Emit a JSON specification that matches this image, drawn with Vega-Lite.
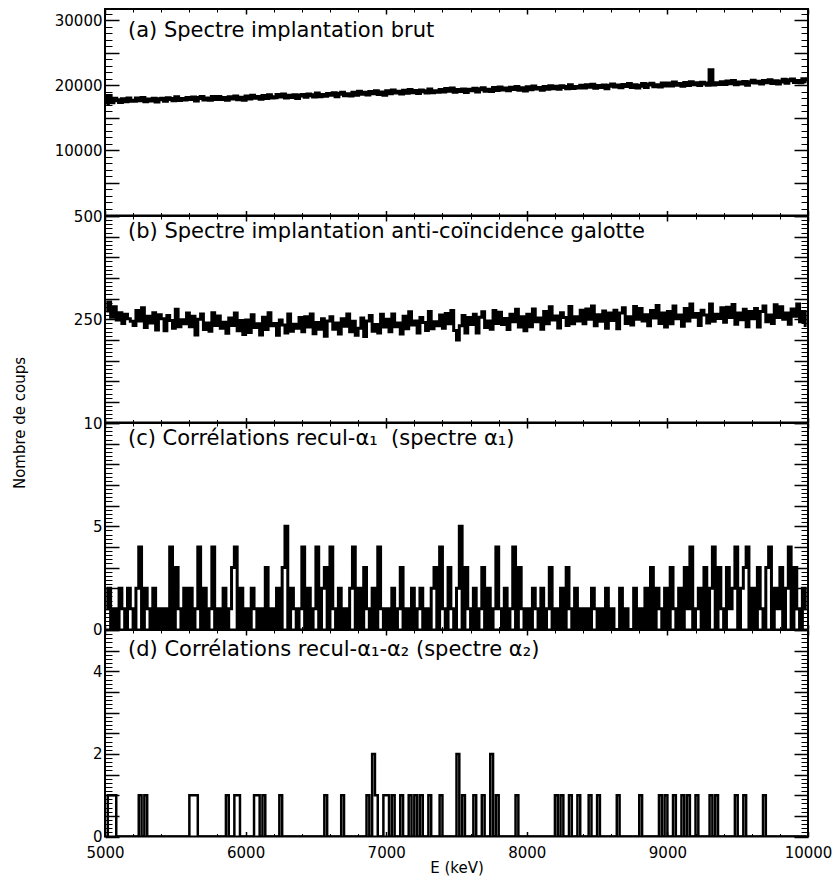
{
"$schema":"https://vega.github.io/schema/vega-lite/v6.json",
"padding":{"left":11,"top":7,"right":0,"bottom":0},
"spacing":0,
"bounds":"flush",
"config":{"font":"DejaVu Sans","view":{"stroke":"black","strokeWidth":2},
"axis":{"grid":false,"format":"d","labelFont":"DejaVu Sans","labelFontSize":15,"labelColor":"black","tickColor":"black","titleFont":"DejaVu Sans","titleFontSize":15,"titleColor":"black","titleFontWeight":"normal","labelFlush":false,"labelOverlap":false,"labelBound":false},
"title":{"font":"DejaVu Sans","fontSize":21,"fontWeight":"normal","color":"black","anchor":"start","frame":"group","orient":"top","offset":0,"baseline":"middle","dx":23}},
"data":{"values":[
{"e":5010,"a":17100,"b":270,"c":1,"d":0},{"e":5030,"a":18350,"b":292,"c":2,"d":1},{"e":5050,"a":17400,"b":255,"c":0,"d":1},{"e":5070,"a":17930,"b":280,"c":1,"d":1},{"e":5090,"a":17680,"b":248,"c":0,"d":0},{"e":5110,"a":17410,"b":266,"c":2,"d":0},{"e":5130,"a":17840,"b":240,"c":1,"d":0},{"e":5150,"a":17540,"b":262,"c":0,"d":0},{"e":5170,"a":17950,"b":251,"c":2,"d":0},{"e":5190,"a":17630,"b":245,"c":1,"d":0},
{"e":5210,"a":17600,"b":235,"c":0,"d":0},{"e":5230,"a":17960,"b":271,"c":2,"d":0},{"e":5250,"a":17710,"b":246,"c":4,"d":1},{"e":5270,"a":18030,"b":278,"c":0,"d":0},{"e":5290,"a":17550,"b":230,"c":2,"d":1},{"e":5310,"a":17820,"b":257,"c":1,"d":0},{"e":5330,"a":17660,"b":241,"c":0,"d":0},{"e":5350,"a":17910,"b":266,"c":2,"d":0},{"e":5370,"a":17490,"b":224,"c":0,"d":0},{"e":5390,"a":17860,"b":261,"c":1,"d":0},
{"e":5410,"a":17910,"b":251,"c":0,"d":0},{"e":5430,"a":17620,"b":222,"c":1,"d":0},{"e":5450,"a":17990,"b":259,"c":0,"d":0},{"e":5470,"a":17870,"b":247,"c":4,"d":0},{"e":5490,"a":17680,"b":228,"c":0,"d":0},{"e":5510,"a":18140,"b":274,"c":3,"d":0},{"e":5530,"a":17720,"b":232,"c":1,"d":0},{"e":5550,"a":17890,"b":249,"c":0,"d":0},{"e":5570,"a":17790,"b":239,"c":2,"d":0},{"e":5590,"a":18050,"b":265,"c":0,"d":0},
{"e":5610,"a":17870,"b":232,"c":2,"d":1},{"e":5630,"a":18120,"b":257,"c":0,"d":1},{"e":5650,"a":17670,"b":212,"c":1,"d":1},{"e":5670,"a":18050,"b":250,"c":4,"d":0},{"e":5690,"a":18180,"b":263,"c":0,"d":0},{"e":5710,"a":17800,"b":225,"c":2,"d":0},{"e":5730,"a":17960,"b":241,"c":0,"d":0},{"e":5750,"a":17760,"b":221,"c":1,"d":0},{"e":5770,"a":18210,"b":266,"c":4,"d":0},{"e":5790,"a":17900,"b":235,"c":0,"d":0},
{"e":5810,"a":18200,"b":258,"c":1,"d":0},{"e":5830,"a":17900,"b":228,"c":0,"d":0},{"e":5850,"a":18050,"b":243,"c":2,"d":0},{"e":5870,"a":17780,"b":216,"c":0,"d":1},{"e":5890,"a":18150,"b":253,"c":1,"d":0},{"e":5910,"a":17970,"b":235,"c":3,"d":0},{"e":5930,"a":18270,"b":265,"c":4,"d":1},{"e":5950,"a":17840,"b":222,"c":0,"d":1},{"e":5970,"a":18090,"b":247,"c":2,"d":0},{"e":5990,"a":17750,"b":213,"c":0,"d":0},
{"e":6010,"a":18270,"b":248,"c":1,"d":0},{"e":6030,"a":17970,"b":218,"c":0,"d":0},{"e":6050,"a":18400,"b":261,"c":2,"d":0},{"e":6070,"a":18090,"b":230,"c":1,"d":1},{"e":6090,"a":18180,"b":239,"c":0,"d":1},{"e":6110,"a":17910,"b":212,"c":1,"d":0},{"e":6130,"a":18340,"b":255,"c":0,"d":1},{"e":6150,"a":18040,"b":225,"c":3,"d":0},{"e":6170,"a":18450,"b":266,"c":0,"d":0},{"e":6190,"a":18130,"b":234,"c":1,"d":0},
{"e":6210,"a":18150,"b":240,"c":0,"d":0},{"e":6230,"a":18510,"b":211,"c":2,"d":0},{"e":6250,"a":18260,"b":248,"c":0,"d":1},{"e":6270,"a":18580,"b":236,"c":3,"d":0},{"e":6290,"a":18100,"b":217,"c":5,"d":0},{"e":6310,"a":18370,"b":263,"c":0,"d":0},{"e":6330,"a":18210,"b":221,"c":2,"d":0},{"e":6350,"a":18460,"b":238,"c":1,"d":0},{"e":6370,"a":18040,"b":228,"c":0,"d":0},{"e":6390,"a":18410,"b":254,"c":1,"d":0},
{"e":6410,"a":18510,"b":220,"c":4,"d":0},{"e":6430,"a":18220,"b":256,"c":0,"d":0},{"e":6450,"a":18590,"b":231,"c":2,"d":0},{"e":6470,"a":18470,"b":263,"c":0,"d":0},{"e":6490,"a":18280,"b":215,"c":1,"d":0},{"e":6510,"a":18740,"b":242,"c":4,"d":0},{"e":6530,"a":18320,"b":226,"c":0,"d":0},{"e":6550,"a":18490,"b":251,"c":2,"d":0},{"e":6570,"a":18390,"b":209,"c":3,"d":1},{"e":6590,"a":18650,"b":246,"c":0,"d":0},
{"e":6610,"a":18520,"b":256,"c":4,"d":0},{"e":6630,"a":18770,"b":226,"c":1,"d":0},{"e":6650,"a":18320,"b":241,"c":0,"d":0},{"e":6670,"a":18700,"b":214,"c":2,"d":0},{"e":6690,"a":18830,"b":251,"c":0,"d":1},{"e":6710,"a":18450,"b":233,"c":1,"d":0},{"e":6730,"a":18610,"b":263,"c":0,"d":0},{"e":6750,"a":18410,"b":220,"c":2,"d":0},{"e":6770,"a":18860,"b":245,"c":4,"d":0},{"e":6790,"a":18550,"b":211,"c":0,"d":0},
{"e":6810,"a":19000,"b":228,"c":2,"d":0},{"e":6830,"a":18700,"b":253,"c":0,"d":0},{"e":6850,"a":18850,"b":208,"c":3,"d":0},{"e":6870,"a":18580,"b":246,"c":1,"d":1},{"e":6890,"a":18950,"b":259,"c":0,"d":0},{"e":6910,"a":18770,"b":221,"c":2,"d":2},{"e":6930,"a":19070,"b":237,"c":0,"d":1},{"e":6950,"a":18640,"b":217,"c":4,"d":0},{"e":6970,"a":18890,"b":262,"c":1,"d":0},{"e":6990,"a":18550,"b":231,"c":0,"d":1},
{"e":7010,"a":19070,"b":250,"c":1,"d":1},{"e":7030,"a":18770,"b":220,"c":0,"d":0},{"e":7050,"a":19200,"b":263,"c":2,"d":1},{"e":7070,"a":18890,"b":232,"c":0,"d":0},{"e":7090,"a":18980,"b":241,"c":1,"d":0},{"e":7110,"a":18710,"b":214,"c":3,"d":1},{"e":7130,"a":19140,"b":257,"c":0,"d":0},{"e":7150,"a":18840,"b":227,"c":1,"d":0},{"e":7170,"a":19250,"b":268,"c":0,"d":1},{"e":7190,"a":18930,"b":236,"c":2,"d":0},
{"e":7210,"a":19110,"b":246,"c":0,"d":1},{"e":7230,"a":18820,"b":217,"c":1,"d":0},{"e":7250,"a":19190,"b":254,"c":2,"d":1},{"e":7270,"a":19070,"b":242,"c":0,"d":0},{"e":7290,"a":18880,"b":223,"c":1,"d":0},{"e":7310,"a":19340,"b":269,"c":0,"d":1},{"e":7330,"a":18920,"b":227,"c":2,"d":0},{"e":7350,"a":19090,"b":244,"c":3,"d":0},{"e":7370,"a":18990,"b":234,"c":0,"d":0},{"e":7390,"a":19250,"b":260,"c":4,"d":1},
{"e":7410,"a":19050,"b":228,"c":1,"d":0},{"e":7430,"a":19410,"b":264,"c":0,"d":0},{"e":7450,"a":19160,"b":239,"c":3,"d":0},{"e":7470,"a":19480,"b":271,"c":1,"d":0},{"e":7490,"a":19000,"b":223,"c":0,"d":0},{"e":7510,"a":19270,"b":200,"c":2,"d":2},{"e":7530,"a":19110,"b":234,"c":5,"d":0},{"e":7550,"a":19360,"b":259,"c":0,"d":1},{"e":7570,"a":18940,"b":217,"c":3,"d":0},{"e":7590,"a":19310,"b":254,"c":1,"d":0},
{"e":7610,"a":19220,"b":237,"c":0,"d":0},{"e":7630,"a":19470,"b":262,"c":2,"d":1},{"e":7650,"a":19020,"b":217,"c":0,"d":0},{"e":7670,"a":19400,"b":255,"c":1,"d":0},{"e":7690,"a":19530,"b":268,"c":3,"d":1},{"e":7710,"a":19150,"b":230,"c":0,"d":0},{"e":7730,"a":19310,"b":246,"c":2,"d":0},{"e":7750,"a":19110,"b":226,"c":0,"d":2},{"e":7770,"a":19560,"b":271,"c":1,"d":0},{"e":7790,"a":19250,"b":240,"c":4,"d":1},
{"e":7810,"a":19650,"b":267,"c":1,"d":0},{"e":7830,"a":19350,"b":237,"c":0,"d":0},{"e":7850,"a":19500,"b":252,"c":2,"d":0},{"e":7870,"a":19230,"b":225,"c":0,"d":0},{"e":7890,"a":19600,"b":262,"c":1,"d":0},{"e":7910,"a":19420,"b":244,"c":4,"d":0},{"e":7930,"a":19720,"b":274,"c":0,"d":1},{"e":7950,"a":19290,"b":231,"c":3,"d":0},{"e":7970,"a":19540,"b":256,"c":1,"d":0},{"e":7990,"a":19200,"b":222,"c":0,"d":0},
{"e":8010,"a":19670,"b":262,"c":1,"d":0},{"e":8030,"a":19370,"b":232,"c":0,"d":0},{"e":8050,"a":19800,"b":275,"c":2,"d":0},{"e":8070,"a":19490,"b":244,"c":1,"d":0},{"e":8090,"a":19580,"b":253,"c":0,"d":0},{"e":8110,"a":19310,"b":226,"c":2,"d":0},{"e":8130,"a":19740,"b":269,"c":0,"d":0},{"e":8150,"a":19440,"b":239,"c":1,"d":0},{"e":8170,"a":19850,"b":280,"c":3,"d":0},{"e":8190,"a":19530,"b":248,"c":0,"d":0},
{"e":8210,"a":19760,"b":258,"c":1,"d":1},{"e":8230,"a":19470,"b":229,"c":0,"d":0},{"e":8250,"a":19840,"b":266,"c":2,"d":1},{"e":8270,"a":19720,"b":254,"c":0,"d":0},{"e":8290,"a":19530,"b":235,"c":3,"d":0},{"e":8310,"a":19990,"b":281,"c":1,"d":1},{"e":8330,"a":19570,"b":239,"c":0,"d":0},{"e":8350,"a":19740,"b":256,"c":2,"d":0},{"e":8370,"a":19640,"b":246,"c":0,"d":1},{"e":8390,"a":19900,"b":272,"c":1,"d":0},
{"e":8410,"a":19650,"b":239,"c":0,"d":0},{"e":8430,"a":20010,"b":275,"c":1,"d":0},{"e":8450,"a":19760,"b":250,"c":0,"d":1},{"e":8470,"a":20080,"b":282,"c":2,"d":0},{"e":8490,"a":19600,"b":234,"c":1,"d":0},{"e":8510,"a":19870,"b":261,"c":0,"d":1},{"e":8530,"a":19710,"b":245,"c":1,"d":0},{"e":8550,"a":19960,"b":270,"c":0,"d":0},{"e":8570,"a":19540,"b":228,"c":2,"d":0},{"e":8590,"a":19910,"b":265,"c":0,"d":0},
{"e":8610,"a":20100,"b":247,"c":1,"d":0},{"e":8630,"a":19800,"b":272,"c":0,"d":0},{"e":8650,"a":19950,"b":227,"c":0,"d":1},{"e":8670,"a":19680,"b":265,"c":2,"d":0},{"e":8690,"a":20050,"b":278,"c":0,"d":0},{"e":8710,"a":19870,"b":240,"c":1,"d":0},{"e":8730,"a":20170,"b":256,"c":0,"d":0},{"e":8750,"a":19740,"b":236,"c":0,"d":0},{"e":8770,"a":19990,"b":281,"c":2,"d":0},{"e":8790,"a":19650,"b":250,"c":0,"d":0},
{"e":8810,"a":19920,"b":276,"c":1,"d":1},{"e":8830,"a":20170,"b":246,"c":0,"d":0},{"e":8850,"a":19720,"b":261,"c":2,"d":0},{"e":8870,"a":20100,"b":234,"c":0,"d":0},{"e":8890,"a":20230,"b":271,"c":3,"d":0},{"e":8910,"a":19850,"b":253,"c":0,"d":0},{"e":8930,"a":20010,"b":283,"c":2,"d":0},{"e":8950,"a":19810,"b":240,"c":1,"d":1},{"e":8970,"a":20260,"b":265,"c":0,"d":0},{"e":8990,"a":19950,"b":231,"c":2,"d":1},
{"e":9010,"a":20270,"b":269,"c":0,"d":0},{"e":9030,"a":19970,"b":239,"c":3,"d":0},{"e":9050,"a":20400,"b":282,"c":1,"d":1},{"e":9070,"a":20090,"b":251,"c":0,"d":0},{"e":9090,"a":20180,"b":260,"c":2,"d":0},{"e":9110,"a":19910,"b":233,"c":0,"d":1},{"e":9130,"a":20340,"b":276,"c":3,"d":0},{"e":9150,"a":20040,"b":246,"c":1,"d":1},{"e":9170,"a":20450,"b":287,"c":4,"d":0},{"e":9190,"a":20130,"b":255,"c":0,"d":0},
{"e":9210,"a":20310,"b":264,"c":1,"d":1},{"e":9230,"a":20020,"b":235,"c":2,"d":0},{"e":9250,"a":20390,"b":272,"c":0,"d":0},{"e":9270,"a":20270,"b":260,"c":3,"d":0},{"e":9290,"a":20080,"b":241,"c":0,"d":0},{"e":9310,"a":22300,"b":287,"c":2,"d":1},{"e":9330,"a":20120,"b":245,"c":4,"d":0},{"e":9350,"a":20290,"b":262,"c":0,"d":1},{"e":9370,"a":20190,"b":252,"c":3,"d":0},{"e":9390,"a":20450,"b":278,"c":1,"d":0},
{"e":9410,"a":20200,"b":243,"c":0,"d":0},{"e":9430,"a":20560,"b":279,"c":3,"d":0},{"e":9450,"a":20310,"b":254,"c":1,"d":0},{"e":9470,"a":20630,"b":286,"c":2,"d":0},{"e":9490,"a":20150,"b":238,"c":4,"d":1},{"e":9510,"a":20420,"b":265,"c":0,"d":0},{"e":9530,"a":20260,"b":249,"c":2,"d":0},{"e":9550,"a":20510,"b":274,"c":3,"d":1},{"e":9570,"a":20090,"b":232,"c":4,"d":0},{"e":9590,"a":20460,"b":269,"c":0,"d":0},
{"e":9610,"a":20700,"b":251,"c":2,"d":0},{"e":9630,"a":20400,"b":276,"c":0,"d":0},{"e":9650,"a":20550,"b":231,"c":3,"d":0},{"e":9670,"a":20280,"b":269,"c":1,"d":0},{"e":9690,"a":20650,"b":282,"c":0,"d":1},{"e":9710,"a":20470,"b":244,"c":3,"d":0},{"e":9730,"a":20770,"b":260,"c":4,"d":0},{"e":9750,"a":20340,"b":240,"c":0,"d":0},{"e":9770,"a":20590,"b":285,"c":2,"d":0},{"e":9790,"a":20250,"b":254,"c":1,"d":0},
{"e":9810,"a":20570,"b":280,"c":3,"d":0},{"e":9830,"a":20820,"b":250,"c":0,"d":0},{"e":9850,"a":20370,"b":265,"c":2,"d":0},{"e":9870,"a":20750,"b":238,"c":4,"d":0},{"e":9890,"a":20880,"b":275,"c":0,"d":0},{"e":9910,"a":20500,"b":257,"c":3,"d":0},{"e":9930,"a":20660,"b":287,"c":1,"d":0},{"e":9950,"a":20460,"b":244,"c":0,"d":0},{"e":9970,"a":20910,"b":269,"c":2,"d":0},{"e":9990,"a":20600,"b":235,"c":1,"d":0}
]},
"vconcat":[
{"width":703,"height":206.5,
"title":{"text":"(a) Spectre implantation brut","dy":37},
"layer":[
{"mark":{"type":"line","interpolate":"step","color":"black","strokeWidth":4,"clip":true},
"encoding":{"x":{"field":"e","type":"quantitative","scale":{"domain":[5000,10000],"nice":false,"zero":false},"axis":null},
"y":{"field":"a","type":"quantitative","scale":{"domain":[0,31700],"nice":false,"zero":false},"axis":{"orient":"left","values":[10000,20000,30000],"ticks":false,"domain":false,"title":null,"labelPadding":3}}}},
{"mark":{"type":"point","opacity":0},"encoding":{"x":{"field":"e","type":"quantitative","axis":{"orient":"bottom","values":[5000,6000,7000,8000,9000,10000],"labels":false,"domain":false,"tickSize":-5,"tickWidth":1.5,"title":null}},
"y":{"field":"a","type":"quantitative","axis":{"orient":"left","values":[0,5000,10000,15000,20000,25000,30000],"labels":false,"domain":false,"tickSize":-14,"tickWidth":1.5,"title":null}}}},
{"mark":{"type":"point","opacity":0},"encoding":{"x":{"field":"e","type":"quantitative","axis":{"orient":"bottom","values":[5200,5400,5600,5800,6200,6400,6600,6800,7200,7400,7600,7800,8200,8400,8600,8800,9200,9400,9600,9800],"labels":false,"domain":false,"tickSize":-3,"title":null}},
"y":{"field":"a","type":"quantitative","axis":{"orient":"left","values":[1000,2000,3000,4000,6000,7000,8000,9000,11000,12000,13000,14000,16000,17000,18000,19000,21000,22000,23000,24000,26000,27000,28000,29000,31000],"labels":false,"domain":false,"tickSize":-7,"title":null}}}},
{"mark":{"type":"point","opacity":0},"encoding":{"x":{"field":"e","type":"quantitative","axis":{"orient":"top","values":[5000,6000,7000,8000,9000,10000],"labels":false,"domain":false,"tickSize":-5,"tickWidth":1.5,"title":null}},
"y":{"field":"a","type":"quantitative","axis":{"orient":"right","values":[0,5000,10000,15000,20000,25000,30000],"labels":false,"domain":false,"tickSize":-14,"tickWidth":1.5,"title":null}}}},
{"mark":{"type":"point","opacity":0},"encoding":{"x":{"field":"e","type":"quantitative","axis":{"orient":"top","values":[5200,5400,5600,5800,6200,6400,6600,6800,7200,7400,7600,7800,8200,8400,8600,8800,9200,9400,9600,9800],"labels":false,"domain":false,"tickSize":-3,"title":null}},
"y":{"field":"a","type":"quantitative","axis":{"orient":"right","values":[1000,2000,3000,4000,6000,7000,8000,9000,11000,12000,13000,14000,16000,17000,18000,19000,21000,22000,23000,24000,26000,27000,28000,29000,31000],"labels":false,"domain":false,"tickSize":-7,"title":null}}}}
],
"resolve":{"axis":{"x":"independent","y":"independent"}}},
{"width":703,"height":206.5,
"title":{"text":"(b) Spectre implantation anti-coïncidence galotte","dy":37},
"layer":[
{"mark":{"type":"line","interpolate":"step","color":"black","strokeWidth":3,"clip":true},
"encoding":{"x":{"field":"e","type":"quantitative","scale":{"domain":[5000,10000],"nice":false,"zero":false},"axis":null},
"y":{"field":"b","type":"quantitative","scale":{"domain":[0,500],"nice":false,"zero":false},"axis":{"orient":"left","values":[250,500],"ticks":false,"domain":false,"labelPadding":3,"title":"Nombre de coups","titleX":-86,"titleY":206.5,"titleAngle":-90,"titleAlign":"center","titleBaseline":"middle"}}}},
{"mark":{"type":"point","opacity":0},"encoding":{"x":{"field":"e","type":"quantitative","axis":{"orient":"bottom","values":[5000,6000,7000,8000,9000,10000],"labels":false,"domain":false,"tickSize":-5,"tickWidth":1.5,"title":null}},
"y":{"field":"b","type":"quantitative","axis":{"orient":"left","values":[0,50,100,150,200,250,300,350,400,450,500],"labels":false,"domain":false,"tickSize":-14,"tickWidth":1.5,"title":null}}}},
{"mark":{"type":"point","opacity":0},"encoding":{"x":{"field":"e","type":"quantitative","axis":{"orient":"bottom","values":[5200,5400,5600,5800,6200,6400,6600,6800,7200,7400,7600,7800,8200,8400,8600,8800,9200,9400,9600,9800],"labels":false,"domain":false,"tickSize":-3,"title":null}},
"y":{"field":"b","type":"quantitative","axis":{"orient":"left","values":[10,20,30,40,60,70,80,90,110,120,130,140,160,170,180,190,210,220,230,240,260,270,280,290,310,320,330,340,360,370,380,390,410,420,430,440,460,470,480,490],"labels":false,"domain":false,"tickSize":-7,"title":null}}}},
{"mark":{"type":"point","opacity":0},"encoding":{"x":{"field":"e","type":"quantitative","axis":{"orient":"top","values":[5000,6000,7000,8000,9000,10000],"labels":false,"domain":false,"tickSize":-5,"tickWidth":1.5,"title":null}},
"y":{"field":"b","type":"quantitative","axis":{"orient":"right","values":[0,50,100,150,200,250,300,350,400,450,500],"labels":false,"domain":false,"tickSize":-14,"tickWidth":1.5,"title":null}}}},
{"mark":{"type":"point","opacity":0},"encoding":{"x":{"field":"e","type":"quantitative","axis":{"orient":"top","values":[5200,5400,5600,5800,6200,6400,6600,6800,7200,7400,7600,7800,8200,8400,8600,8800,9200,9400,9600,9800],"labels":false,"domain":false,"tickSize":-3,"title":null}},
"y":{"field":"b","type":"quantitative","axis":{"orient":"right","values":[10,20,30,40,60,70,80,90,110,120,130,140,160,170,180,190,210,220,230,240,260,270,280,290,310,320,330,340,360,370,380,390,410,420,430,440,460,470,480,490],"labels":false,"domain":false,"tickSize":-7,"title":null}}}}
],
"resolve":{"axis":{"x":"independent","y":"independent"}}},
{"width":703,"height":206.5,
"title":{"text":"(c) Corrélations recul-α₁\u00a0 (spectre α₁)","dy":37},
"layer":[
{"mark":{"type":"line","interpolate":"step","color":"black","strokeWidth":3,"clip":true},
"encoding":{"x":{"field":"e","type":"quantitative","scale":{"domain":[5000,10000],"nice":false,"zero":false},"axis":null},
"y":{"field":"c","type":"quantitative","scale":{"domain":[0,10],"nice":false,"zero":false},"axis":{"orient":"left","values":[0,5,10],"ticks":false,"domain":false,"title":null,"labelPadding":3}}}},
{"mark":{"type":"point","opacity":0},"encoding":{"x":{"field":"e","type":"quantitative","axis":{"orient":"bottom","values":[5000,6000,7000,8000,9000,10000],"labels":false,"domain":false,"tickSize":-5,"tickWidth":1.5,"title":null}},
"y":{"field":"c","type":"quantitative","axis":{"orient":"left","values":[0,1,2,3,4,5,6,7,8,9,10],"labels":false,"domain":false,"tickSize":-14,"tickWidth":1.5,"title":null}}}},
{"mark":{"type":"point","opacity":0},"encoding":{"x":{"field":"e","type":"quantitative","axis":{"orient":"bottom","values":[5200,5400,5600,5800,6200,6400,6600,6800,7200,7400,7600,7800,8200,8400,8600,8800,9200,9400,9600,9800],"labels":false,"domain":false,"tickSize":-3,"title":null}},
"y":{"field":"c","type":"quantitative","axis":{"orient":"left","values":[0.2,0.4,0.6,0.8,1.2,1.4,1.6,1.8,2.2,2.4,2.6,2.8,3.2,3.4,3.6,3.8,4.2,4.4,4.6,4.8,5.2,5.4,5.6,5.8,6.2,6.4,6.6,6.8,7.2,7.4,7.6,7.8,8.2,8.4,8.6,8.8,9.2,9.4,9.6,9.8],"labels":false,"domain":false,"tickSize":-7,"title":null}}}},
{"mark":{"type":"point","opacity":0},"encoding":{"x":{"field":"e","type":"quantitative","axis":{"orient":"top","values":[5000,6000,7000,8000,9000,10000],"labels":false,"domain":false,"tickSize":-5,"tickWidth":1.5,"title":null}},
"y":{"field":"c","type":"quantitative","axis":{"orient":"right","values":[0,1,2,3,4,5,6,7,8,9,10],"labels":false,"domain":false,"tickSize":-14,"tickWidth":1.5,"title":null}}}},
{"mark":{"type":"point","opacity":0},"encoding":{"x":{"field":"e","type":"quantitative","axis":{"orient":"top","values":[5200,5400,5600,5800,6200,6400,6600,6800,7200,7400,7600,7800,8200,8400,8600,8800,9200,9400,9600,9800],"labels":false,"domain":false,"tickSize":-3,"title":null}},
"y":{"field":"c","type":"quantitative","axis":{"orient":"right","values":[0.2,0.4,0.6,0.8,1.2,1.4,1.6,1.8,2.2,2.4,2.6,2.8,3.2,3.4,3.6,3.8,4.2,4.4,4.6,4.8,5.2,5.4,5.6,5.8,6.2,6.4,6.6,6.8,7.2,7.4,7.6,7.8,8.2,8.4,8.6,8.8,9.2,9.4,9.6,9.8],"labels":false,"domain":false,"tickSize":-7,"title":null}}}}
],
"resolve":{"axis":{"x":"independent","y":"independent"}}},
{"width":703,"height":206.5,
"title":{"text":"(d) Corrélations recul-α₁-α₂ (spectre α₂)","dy":35},
"layer":[
{"mark":{"type":"line","interpolate":"step","color":"black","strokeWidth":2.5,"clip":true},
"encoding":{"x":{"field":"e","type":"quantitative","scale":{"domain":[5000,10000],"nice":false,"zero":false},"axis":{"orient":"bottom","values":[5000,6000,7000,8000,9000,10000],"ticks":false,"domain":false,"title":"E (keV)","labelPadding":9,"titlePadding":0}},
"y":{"field":"d","type":"quantitative","scale":{"domain":[0,5],"nice":false,"zero":false},"axis":{"orient":"left","values":[0,2,4],"ticks":false,"domain":false,"title":null,"labelPadding":3}}}},
{"mark":{"type":"point","opacity":0},"encoding":{"x":{"field":"e","type":"quantitative","axis":{"orient":"bottom","values":[5000,6000,7000,8000,9000,10000],"labels":false,"domain":false,"tickSize":-5,"tickWidth":1.5,"title":null}},
"y":{"field":"d","type":"quantitative","axis":{"orient":"left","values":[0,0.5,1,1.5,2,2.5,3,3.5,4,4.5,5],"labels":false,"domain":false,"tickSize":-14,"tickWidth":1.5,"title":null}}}},
{"mark":{"type":"point","opacity":0},"encoding":{"x":{"field":"e","type":"quantitative","axis":{"orient":"bottom","values":[5200,5400,5600,5800,6200,6400,6600,6800,7200,7400,7600,7800,8200,8400,8600,8800,9200,9400,9600,9800],"labels":false,"domain":false,"tickSize":-3,"title":null}},
"y":{"field":"d","type":"quantitative","axis":{"orient":"left","values":[0.1,0.2,0.3,0.4,0.6,0.7,0.8,0.9,1.1,1.2,1.3,1.4,1.6,1.7,1.8,1.9,2.1,2.2,2.3,2.4,2.6,2.7,2.8,2.9,3.1,3.2,3.3,3.4,3.6,3.7,3.8,3.9,4.1,4.2,4.3,4.4,4.6,4.7,4.8,4.9],"labels":false,"domain":false,"tickSize":-7,"title":null}}}},
{"mark":{"type":"point","opacity":0},"encoding":{"x":{"field":"e","type":"quantitative","axis":{"orient":"top","values":[5000,6000,7000,8000,9000,10000],"labels":false,"domain":false,"tickSize":-5,"tickWidth":1.5,"title":null}},
"y":{"field":"d","type":"quantitative","axis":{"orient":"right","values":[0,0.5,1,1.5,2,2.5,3,3.5,4,4.5,5],"labels":false,"domain":false,"tickSize":-14,"tickWidth":1.5,"title":null}}}},
{"mark":{"type":"point","opacity":0},"encoding":{"x":{"field":"e","type":"quantitative","axis":{"orient":"top","values":[5200,5400,5600,5800,6200,6400,6600,6800,7200,7400,7600,7800,8200,8400,8600,8800,9200,9400,9600,9800],"labels":false,"domain":false,"tickSize":-3,"title":null}},
"y":{"field":"d","type":"quantitative","axis":{"orient":"right","values":[0.1,0.2,0.3,0.4,0.6,0.7,0.8,0.9,1.1,1.2,1.3,1.4,1.6,1.7,1.8,1.9,2.1,2.2,2.3,2.4,2.6,2.7,2.8,2.9,3.1,3.2,3.3,3.4,3.6,3.7,3.8,3.9,4.1,4.2,4.3,4.4,4.6,4.7,4.8,4.9],"labels":false,"domain":false,"tickSize":-7,"title":null}}}}
],
"resolve":{"axis":{"x":"independent","y":"independent"}}}
]
}
